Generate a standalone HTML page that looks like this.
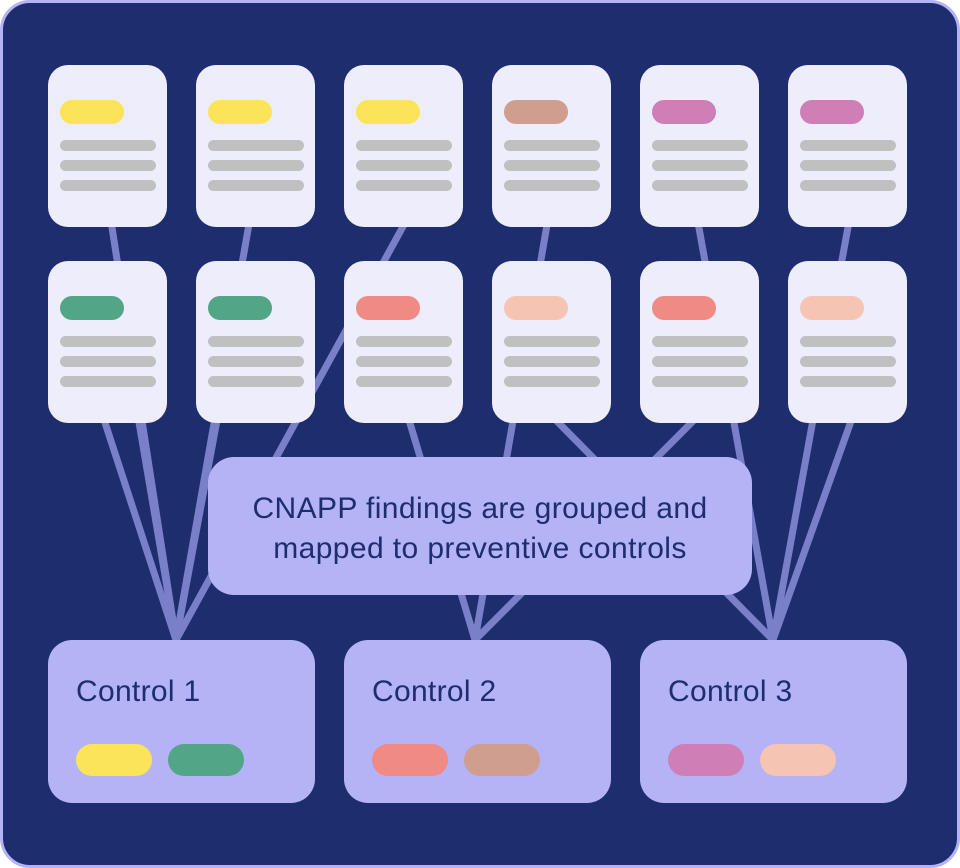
<!DOCTYPE html>
<html><head><style>
body{margin:0;width:960px;height:868px;background:#fff;font-family:"Liberation Sans",sans-serif;}
.frame{position:absolute;left:0;top:0;width:954px;height:862px;border:3px solid #b3b3f5;border-radius:30px;background:#1e2d6e;}
.c{position:absolute;width:119px;height:162px;background:#ededfb;border-radius:20px;}
.p{position:absolute;left:12px;top:35px;width:64px;height:24px;border-radius:12px;}
.g{position:absolute;left:12px;width:96px;height:11px;border-radius:6px;background:#c0c0c0;}
.ctl{position:absolute;top:640px;width:267px;height:163px;background:#b3b3f5;border-radius:24px;}
.ctl .t{position:absolute;left:28px;top:35px;font-size:30px;color:#1e2d6e;letter-spacing:0.3px;}
.ctl .q{position:absolute;top:104px;width:76px;height:32px;border-radius:16px;}
</style></head><body>
<div class="frame"></div>
<svg style="position:absolute;left:0;top:0" width="960" height="868">
<g stroke="#7a80c8" stroke-width="7">
<line x1="100" y1="150" x2="176" y2="640"/>
<line x1="78" y1="340" x2="176" y2="640"/>
<line x1="262" y1="150" x2="176" y2="640"/>
<line x1="445" y1="150" x2="176" y2="640"/>
<line x1="125" y1="340" x2="176" y2="640"/>
<line x1="232" y1="340" x2="176" y2="640"/>
<line x1="385" y1="340" x2="475" y2="640"/>
<line x1="560" y1="150" x2="475" y2="640"/>
<line x1="710" y1="404" x2="475" y2="640"/>
<line x1="540" y1="404" x2="773" y2="640"/>
<line x1="685" y1="150" x2="773" y2="640"/>
<line x1="862" y1="150" x2="773" y2="640"/>
<line x1="880" y1="340" x2="773" y2="640"/>
</g></svg>
<div class="c" style="left:48px;top:65px"><div class="p" style="background:#fce45a"></div><div class="g" style="top:75px"></div><div class="g" style="top:95px"></div><div class="g" style="top:115px"></div></div>
<div class="c" style="left:196px;top:65px"><div class="p" style="background:#fce45a"></div><div class="g" style="top:75px"></div><div class="g" style="top:95px"></div><div class="g" style="top:115px"></div></div>
<div class="c" style="left:344px;top:65px"><div class="p" style="background:#fce45a"></div><div class="g" style="top:75px"></div><div class="g" style="top:95px"></div><div class="g" style="top:115px"></div></div>
<div class="c" style="left:492px;top:65px"><div class="p" style="background:#cf9e8e"></div><div class="g" style="top:75px"></div><div class="g" style="top:95px"></div><div class="g" style="top:115px"></div></div>
<div class="c" style="left:640px;top:65px"><div class="p" style="background:#cf7fb6"></div><div class="g" style="top:75px"></div><div class="g" style="top:95px"></div><div class="g" style="top:115px"></div></div>
<div class="c" style="left:788px;top:65px"><div class="p" style="background:#cf7fb6"></div><div class="g" style="top:75px"></div><div class="g" style="top:95px"></div><div class="g" style="top:115px"></div></div>
<div class="c" style="left:48px;top:261px"><div class="p" style="background:#52a586"></div><div class="g" style="top:75px"></div><div class="g" style="top:95px"></div><div class="g" style="top:115px"></div></div>
<div class="c" style="left:196px;top:261px"><div class="p" style="background:#52a586"></div><div class="g" style="top:75px"></div><div class="g" style="top:95px"></div><div class="g" style="top:115px"></div></div>
<div class="c" style="left:344px;top:261px"><div class="p" style="background:#f08a84"></div><div class="g" style="top:75px"></div><div class="g" style="top:95px"></div><div class="g" style="top:115px"></div></div>
<div class="c" style="left:492px;top:261px"><div class="p" style="background:#f5c4b2"></div><div class="g" style="top:75px"></div><div class="g" style="top:95px"></div><div class="g" style="top:115px"></div></div>
<div class="c" style="left:640px;top:261px"><div class="p" style="background:#f08a84"></div><div class="g" style="top:75px"></div><div class="g" style="top:95px"></div><div class="g" style="top:115px"></div></div>
<div class="c" style="left:788px;top:261px"><div class="p" style="background:#f5c4b2"></div><div class="g" style="top:75px"></div><div class="g" style="top:95px"></div><div class="g" style="top:115px"></div></div>
<div style="position:absolute;left:208px;top:457px;width:544px;height:138px;background:#b3b3f5;border-radius:26px;color:#1e2d6e;font-size:30px;letter-spacing:0.4px;line-height:40px;text-align:center;padding-top:32px;box-sizing:border-box;white-space:nowrap;">CNAPP findings are grouped and<br>mapped to preventive controls</div>
<div class="ctl" style="left:48px"><div class="t">Control 1</div><div class="q" style="left:28px;background:#fce45a"></div><div class="q" style="left:120px;background:#52a586"></div></div>
<div class="ctl" style="left:344px"><div class="t">Control 2</div><div class="q" style="left:28px;background:#f08a84"></div><div class="q" style="left:120px;background:#cf9e8e"></div></div>
<div class="ctl" style="left:640px"><div class="t">Control 3</div><div class="q" style="left:28px;background:#cf7fb6"></div><div class="q" style="left:120px;background:#f5c4b2"></div></div>
</body></html>
